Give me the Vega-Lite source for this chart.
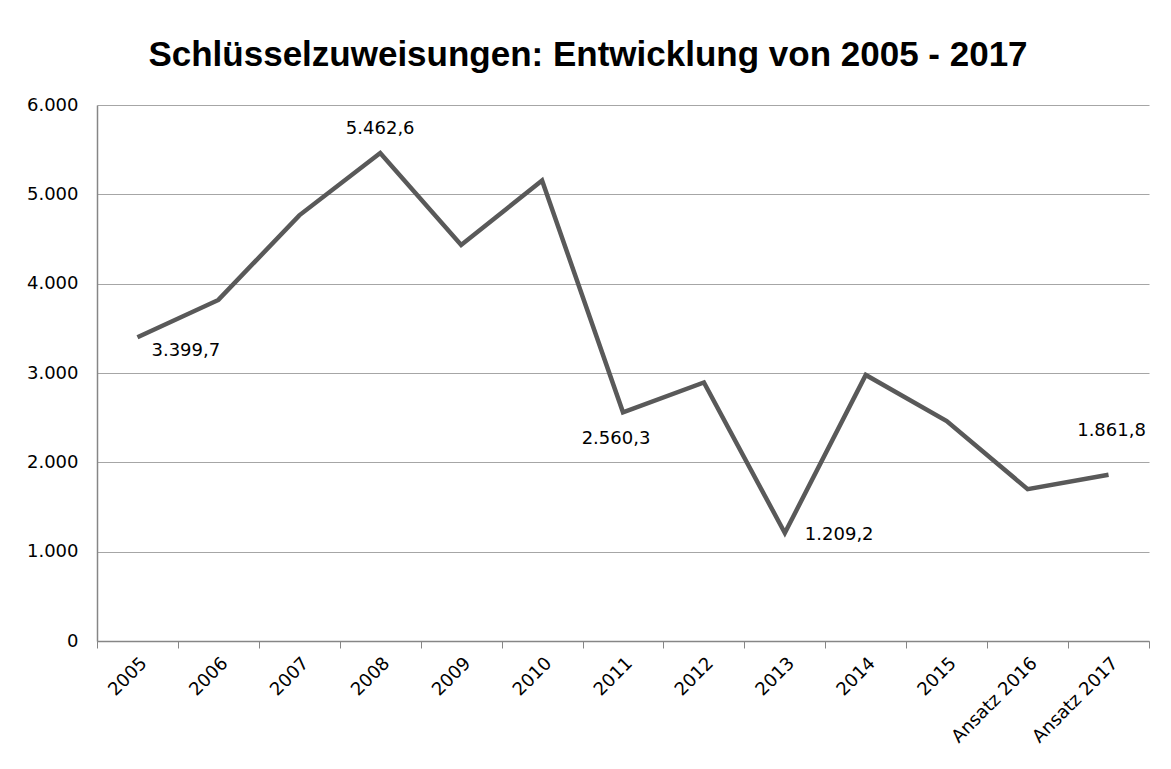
{
  "$schema": "https://vega.github.io/schema/vega-lite/v6.json",
  "width": 1052,
  "height": 536,
  "padding": {"left": 26, "top": 38, "right": 10, "bottom": 5},
  "background": "white",
  "config": {
    "locale": {"number": {"decimal": ",", "thousands": ".", "grouping": [3], "currency": ["", " €"]}},
    "view": {"stroke": null},
    "font": "DejaVu Sans"
  },
  "title": {
    "text": "Schlüsselzuweisungen: Entwicklung von 2005 - 2017",
    "font": "Liberation Sans",
    "fontSize": 35,
    "fontWeight": "bold",
    "color": "#000000",
    "anchor": "middle",
    "frame": "bounds",
    "offset": 23
  },
  "data": {
    "values": [
      {"jahr": "2005", "wert": 3399.7},
      {"jahr": "2006", "wert": 3818},
      {"jahr": "2007", "wert": 4765},
      {"jahr": "2008", "wert": 5462.6},
      {"jahr": "2009", "wert": 4433},
      {"jahr": "2010", "wert": 5155},
      {"jahr": "2011", "wert": 2560.3},
      {"jahr": "2012", "wert": 2894},
      {"jahr": "2013", "wert": 1209.2},
      {"jahr": "2014", "wert": 2978},
      {"jahr": "2015", "wert": 2462},
      {"jahr": "Ansatz 2016", "wert": 1700},
      {"jahr": "Ansatz 2017", "wert": 1861.8}
    ]
  },
  "encoding": {
    "x": {
      "field": "jahr",
      "type": "ordinal",
      "sort": null,
      "title": null,
      "scale": {"paddingInner": 0, "paddingOuter": 0},
      "axis": {
        "labelAngle": -45,
        "labelFontSize": 18,
        "labelColor": "#000000",
        "labelPadding": 6,
        "tickBand": "extent",
        "tickSize": 7,
        "tickColor": "#868686",
        "domainColor": "#868686",
        "domainWidth": 1.5,
        "grid": false
      }
    },
    "y": {
      "field": "wert",
      "type": "quantitative",
      "title": null,
      "scale": {"domain": [0, 6000], "nice": false},
      "axis": {
        "values": [0, 1000, 2000, 3000, 4000, 5000, 6000],
        "format": ",.0f",
        "labelFontSize": 18,
        "labelColor": "#000000",
        "labelPadding": 19,
        "ticks": false,
        "domainColor": "#868686",
        "domainWidth": 1.5,
        "gridColor": "#a6a6a6",
        "gridWidth": 1.2,
        "gridOpacity": 1
      }
    }
  },
  "layer": [
    {
      "mark": {"type": "line", "color": "#595959", "strokeWidth": 4.5, "strokeJoin": "miter"}
    },
    {
      "transform": [{"filter": "datum.jahr == '2005'"}],
      "mark": {"type": "text", "align": "left", "baseline": "middle", "dx": 14, "dy": 14, "fontSize": 18, "color": "#000000"},
      "encoding": {"text": {"field": "wert", "type": "quantitative", "format": ",.1f"}}
    },
    {
      "transform": [{"filter": "datum.jahr == '2008'"}],
      "mark": {"type": "text", "align": "center", "baseline": "middle", "dx": 0, "dy": -24, "fontSize": 18, "color": "#000000"},
      "encoding": {"text": {"field": "wert", "type": "quantitative", "format": ",.1f"}}
    },
    {
      "transform": [{"filter": "datum.jahr == '2011'"}],
      "mark": {"type": "text", "align": "center", "baseline": "middle", "dx": -7, "dy": 27, "fontSize": 18, "color": "#000000"},
      "encoding": {"text": {"field": "wert", "type": "quantitative", "format": ",.1f"}}
    },
    {
      "transform": [{"filter": "datum.jahr == '2013'"}],
      "mark": {"type": "text", "align": "left", "baseline": "middle", "dx": 20, "dy": 2, "fontSize": 18, "color": "#000000"},
      "encoding": {"text": {"field": "wert", "type": "quantitative", "format": ",.1f"}}
    },
    {
      "transform": [{"filter": "datum.jahr == 'Ansatz 2017'"}],
      "mark": {"type": "text", "align": "center", "baseline": "middle", "dx": 3, "dy": -44, "fontSize": 18, "color": "#000000"},
      "encoding": {"text": {"field": "wert", "type": "quantitative", "format": ",.1f"}}
    }
  ]
}
